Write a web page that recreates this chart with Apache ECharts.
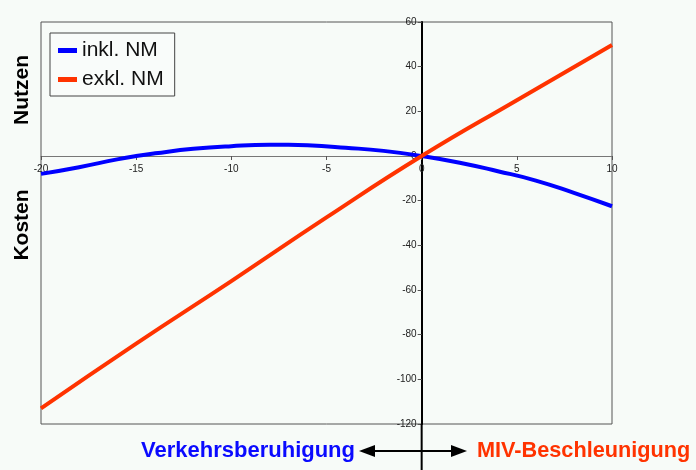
<!DOCTYPE html>
<html><head><meta charset="utf-8">
<script src="https://cdn.jsdelivr.net/npm/echarts@6/dist/echarts.min.js"></script>
<style>html,body{margin:0;padding:0;background:#f7fbf8}#c{width:696px;height:470px}</style>
</head><body><div id="c"></div>
<script>
const xInkl = [-20,-18,-16,-15,-14,-12,-10,-8,-7,-6,-4,-2,0,2,4,6,8,10];
const yInkl = [-8,-5,-1.5,0,1.2,3.2,4.4,5,5,4.8,3.7,2.3,0,-3,-6.8,-11,-16.5,-22.5];
const xExkl = [-20,-15,-10,-5,0,5,10];
const yExkl = [-113,-84,-56,-27.5,0,25,49.7];
const seriesNames = ['inkl. NM','exkl. NM'];
const leftLabels = ['Nutzen','Kosten'];
const bottomLabels = ['Verkehrsberuhigung','MIV-Beschleunigung'];

const GL=41, GR=84, GT=22, GB=46, W=696, H=470;
const xMin=-20, xMax=10, yMin=-120, yMax=60;
const pw = W-GL-GR, ph = H-GT-GB;
const xOff = -ph*(0-yMin)/(yMax-yMin);   // move x axis up to y=0
const yOff = -pw*(0-xMin)/(xMax-xMin);   // move y axis right to x=0

const chart = echarts.init(document.getElementById('c'));
const F = 'Liberation Sans, Arial, sans-serif';
chart.setOption({
  backgroundColor:'#f7fbf8',
  animation:false,
  grid:{left:GL,right:GR,top:GT,bottom:GB,show:true,borderColor:'#555',borderWidth:1,backgroundColor:'#f7fbf8'},
  xAxis:{type:'value',min:xMin,max:xMax,interval:5,position:'bottom',offset:xOff,
    axisLine:{onZero:false,lineStyle:{color:'#777',width:1}},
    axisTick:{show:true,length:4,lineStyle:{color:'#555'}},
    axisLabel:{color:'#222',fontSize:10,fontFamily:F,margin:8,align:'center'},
    splitLine:{show:false}},
  yAxis:{type:'value',min:yMin,max:yMax,interval:20,position:'left',offset:yOff,
    axisLine:{onZero:false,lineStyle:{color:'#000',width:2}},
    axisTick:{show:true,length:4,lineStyle:{color:'#555'}},
    axisLabel:{color:'#222',fontSize:10,fontFamily:F,margin:5},
    splitLine:{show:false}},
  legend:{orient:'vertical',left:50,top:33,padding:[7,11,6,8],itemGap:8,
    backgroundColor:'#f9fcfa',borderColor:'#444',borderWidth:1,borderRadius:0,
    itemWidth:19,itemHeight:5,icon:'rect',
    textStyle:{fontSize:21,fontFamily:F,color:'#111'},
    data:seriesNames},
  series:[
    {name:seriesNames[0],type:'line',smooth:true,showSymbol:false,symbol:'none',
     lineStyle:{color:'#0000ff',width:4},itemStyle:{color:'#0000ff'},
     data:xInkl.map((x,i)=>[x,yInkl[i]])},
    {name:seriesNames[1],type:'line',smooth:true,showSymbol:false,symbol:'none',
     lineStyle:{color:'#ff3300',width:4},itemStyle:{color:'#ff3300'},
     data:xExkl.map((x,i)=>[x,yExkl[i]])}
  ]
});

const p0 = chart.convertToPixel({gridIndex:0},[0,yMin]);
const x0 = p0[0];
const yb = 451;
chart.setOption({graphic:[
  {type:'line',shape:{x1:x0,y1:p0[1],x2:x0,y2:H},style:{stroke:'#000',lineWidth:2},z:10},
  {type:'text',x:22,y:90,rotation:Math.PI/2,style:{text:leftLabels[0],font:'bold 21px '+F,fill:'#000',align:'center',verticalAlign:'middle'}},
  {type:'text',x:22,y:225,rotation:Math.PI/2,style:{text:leftLabels[1],font:'bold 21px '+F,fill:'#000',align:'center',verticalAlign:'middle'}},
  {type:'text',x:355,y:yb,style:{text:bottomLabels[0],font:'bold 22px '+F,fill:'#0a0aff',align:'right',verticalAlign:'middle'}},
  {type:'text',x:477,y:yb,style:{text:bottomLabels[1],font:'bold 21.7px '+F,fill:'#ff3300',align:'left',verticalAlign:'middle'}},
  {type:'line',shape:{x1:370,y1:yb,x2:455,y2:yb},style:{stroke:'#000',lineWidth:2}},
  {type:'polygon',shape:{points:[[359,yb],[375,yb-6],[375,yb+6]]},style:{fill:'#000'}},
  {type:'polygon',shape:{points:[[467,yb],[451,yb-6],[451,yb+6]]},style:{fill:'#000'}}
]});
</script></body></html>
